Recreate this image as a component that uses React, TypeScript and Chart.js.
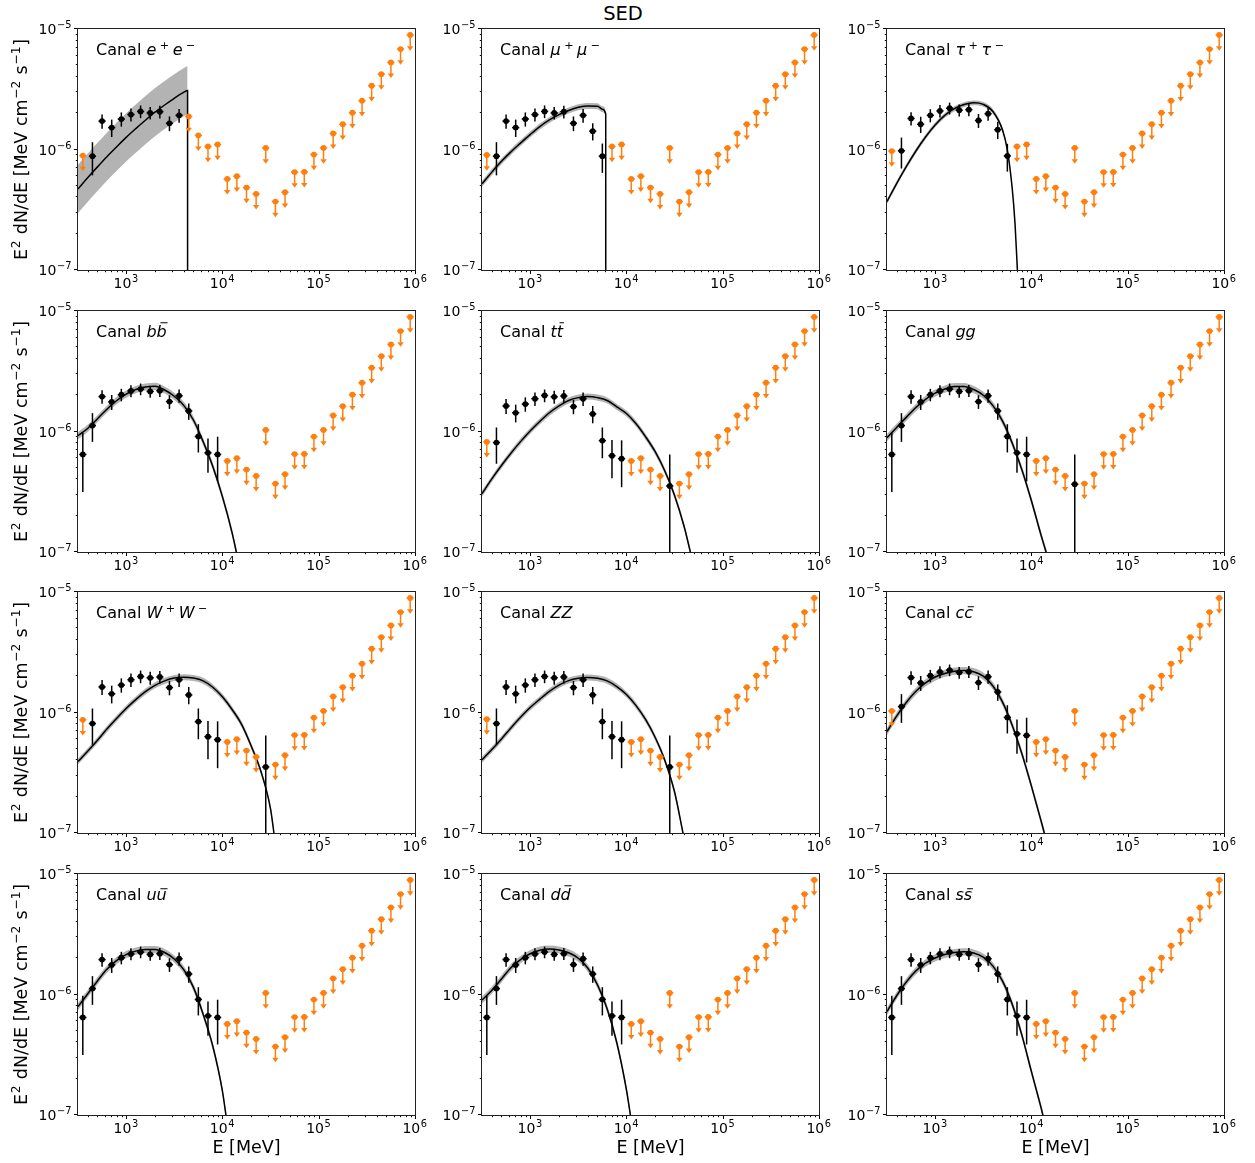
import React, { useEffect, useRef } from "react";
import { Chart, registerables } from "chart.js";

Chart.register(...registerables);

// ---------------- data ----------------
// Bin centres (MeV)
const energyMeV = [354.8, 446.7, 562.3, 707.9, 891.3, 1122, 1413, 1778, 2239, 2818, 3548, 4467, 5623, 7079, 8913, 11220, 14125, 17783, 22387, 28184, 35481, 44668, 56234, 70795, 89125, 112202, 141254, 177828, 223872, 281838, 354813, 446684, 562341, 707946, 891251];

// Upper limits (orange) for bins that are not detections
const upperLimitFlux = [null, null, null, null, null, null, null, null, null, null, null, 1.88e-6, 1.31e-6, 1.06e-6, 1.10e-6, 5.7e-7, 6.0e-7, 4.83e-7, 4.28e-7, 1.03e-6, 3.70e-7, 4.42e-7, 6.49e-7, 6.52e-7, 9.08e-7, 1.03e-6, 1.36e-6, 1.62e-6, 2.02e-6, 2.54e-6, 3.38e-6, 4.22e-6, 5.28e-6, 6.82e-6, 8.92e-6];

// Detected flux points (black) per fit family, bins 0..19
const leptonFlux = [null, 8.8e-7, 1.72e-6, 1.52e-6, 1.79e-6, 1.95e-6, 2.07e-6, 2.01e-6, 2.06e-6, 1.65e-6, 1.92e-6, 1.42e-6, 8.8e-7];
const leptonErr = [null, 2.7e-7, 2.3e-7, 2.5e-7, 2.4e-7, 2.4e-7, 2.5e-7, 2.4e-7, 2.5e-7, 2.3e-7, 2.5e-7, 2.3e-7, 2.4e-7];
const tauFlux = [null, 9.75e-7, 1.81e-6, 1.62e-6, 1.92e-6, 2.09e-6, 2.2e-6, 2.12e-6, 2.14e-6, 1.74e-6, 1.98e-6, 1.46e-6, 8.85e-7];
const tauErr = [null, 2.8e-7, 2.3e-7, 2.5e-7, 2.4e-7, 2.5e-7, 2.5e-7, 2.4e-7, 2.5e-7, 2.3e-7, 2.5e-7, 2.4e-7, 2.3e-7];
const heavyFlux = [null, 8.1e-7, 1.63e-6, 1.43e-6, 1.69e-6, 1.87e-6, 1.99e-6, 1.94e-6, 1.97e-6, 1.61e-6, 1.87e-6, 1.40e-6, 8.4e-7, 6.3e-7, 5.95e-7, null, null, null, null, 3.53e-7];
const heavyErr = [null, 2.7e-7, 2.3e-7, 2.4e-7, 2.3e-7, 2.4e-7, 2.4e-7, 2.4e-7, 2.4e-7, 2.2e-7, 2.4e-7, 2.3e-7, 2.4e-7, 2.2e-7, 2.5e-7, null, null, null, null, 2.9e-7];
const quarkFlux = [6.45e-7, 1.12e-6, 1.95e-6, 1.76e-6, 2.02e-6, 2.17e-6, 2.25e-6, 2.15e-6, 2.18e-6, 1.77e-6, 1.98e-6, 1.48e-6, 9.1e-7, 6.65e-7, 6.45e-7, null, null, null, null, 3.65e-7];
const quarkErr = [3.3e-7, 3.0e-7, 2.5e-7, 2.5e-7, 2.4e-7, 2.5e-7, 2.5e-7, 2.4e-7, 2.5e-7, 2.3e-7, 2.5e-7, 2.3e-7, 2.4e-7, 2.1e-7, 2.6e-7, null, null, null, null, 2.8e-7];

// Channels, row-major
const channelKeys = ["ee", "mumu", "tautau", "bb", "tt", "gg", "WW", "ZZ", "cc", "uu", "dd", "ss"];
const channelFamily = ["lepton", "lepton", "tau", "quark", "heavy", "quark", "heavy", "heavy", "quark", "quark", "quark", "quark"];
const channelDetectedBins = [
  [1, 2, 3, 4, 5, 6, 7, 8, 9, 10],
  [1, 2, 3, 4, 5, 6, 7, 8, 9, 10, 11, 12],
  [1, 2, 3, 4, 5, 6, 7, 8, 9, 10, 11, 12],
  [0, 1, 2, 3, 4, 5, 6, 7, 8, 9, 10, 11, 12, 13, 14],
  [1, 2, 3, 4, 5, 6, 7, 8, 9, 10, 11, 12, 13, 14, 19],
  [0, 1, 2, 3, 4, 5, 6, 7, 8, 9, 10, 11, 12, 13, 14, 19],
  [1, 2, 3, 4, 5, 6, 7, 8, 9, 10, 11, 12, 13, 14, 19],
  [1, 2, 3, 4, 5, 6, 7, 8, 9, 10, 11, 12, 13, 14, 19],
  [1, 2, 3, 4, 5, 6, 7, 8, 9, 10, 11, 12, 13, 14],
  [0, 1, 2, 3, 4, 5, 6, 7, 8, 9, 10, 11, 12, 13, 14],
  [0, 1, 2, 3, 4, 5, 6, 7, 8, 9, 10, 11, 12, 13, 14],
  [0, 1, 2, 3, 4, 5, 6, 7, 8, 9, 10, 11, 12, 13, 14],
];
const channelFirstBinUl = [8.9e-7, 9.0e-7, 9.7e-7, null, 8.2e-7, null, 8.7e-7, 8.8e-7, 1.03e-6, null, null, null];
// half width of the model uncertainty band, in decades
const channelBandDex = [0.2, 0.025, 0.02, 0.03, 0.025, 0.03, 0.025, 0.025, 0.03, 0.03, 0.03, 0.03];

// Model curves [E (MeV), E^2 dN/dE]
const curveEE = [[316.2, 4.71e-7], [398.1, 5.82e-7], [501.2, 7.14e-7], [631.0, 8.71e-7], [794.3, 1.05e-6], [1000, 1.26e-6], [1259, 1.49e-6], [1585, 1.75e-6], [1995, 2.04e-6], [2512, 2.34e-6], [3162, 2.66e-6], [3981, 2.99e-6], [4345, 3.09e-6], [4350, 1e-10]];
const curveMuMu = [[316.2, 5.19e-7], [398.1, 6.46e-7], [501.2, 7.94e-7], [631.0, 9.55e-7], [794.3, 1.13e-6], [1000, 1.33e-6], [1259, 1.55e-6], [1585, 1.76e-6], [1995, 1.95e-6], [2512, 2.11e-6], [3162, 2.24e-6], [3981, 2.30e-6], [5012, 2.29e-6], [5623, 2.16e-6], [6095, 1.97e-6], [6105, 1e-10]];
const curveTauTau = [[316.2, 3.70e-7], [398.1, 5.22e-7], [501.2, 7.21e-7], [631.0, 9.72e-7], [794.3, 1.27e-6], [1000, 1.60e-6], [1259, 1.92e-6], [1585, 2.18e-6], [1995, 2.36e-6], [2512, 2.44e-6], [3162, 2.37e-6], [3981, 2.07e-6], [5012, 1.45e-6], [5623, 9.89e-7], [6310, 4.79e-7], [6761, 2.40e-7], [7178, 9.33e-8]];
const curveBB = [[316.2, 9.23e-7], [398.1, 1.06e-6], [501.2, 1.27e-6], [631.0, 1.53e-6], [794.3, 1.80e-6], [1000, 2.04e-6], [1259, 2.23e-6], [1585, 2.34e-6], [1995, 2.37e-6], [2512, 2.21e-6], [3162, 1.96e-6], [3981, 1.64e-6], [5012, 1.24e-6], [6310, 8.22e-7], [7943, 5.13e-7], [10000, 2.88e-7], [12589, 1.45e-7], [14125, 9.55e-8]];
const curveTT = [[316.2, 3.05e-7], [398.1, 4.02e-7], [501.2, 5.20e-7], [631.0, 6.61e-7], [794.3, 8.24e-7], [1000, 1.01e-6], [1259, 1.21e-6], [1585, 1.43e-6], [1995, 1.63e-6], [2512, 1.81e-6], [3162, 1.91e-6], [3981, 1.95e-6], [5012, 1.91e-6], [6310, 1.81e-6], [7943, 1.60e-6], [10000, 1.41e-6], [12589, 1.16e-6], [15849, 9.02e-7], [19953, 6.76e-7], [25119, 4.68e-7], [31623, 2.95e-7], [39811, 1.62e-7], [46774, 9.55e-8]];
const curveGG = [[316.2, 8.89e-7], [398.1, 1.08e-6], [501.2, 1.31e-6], [631.0, 1.58e-6], [794.3, 1.85e-6], [1000, 2.08e-6], [1259, 2.25e-6], [1585, 2.36e-6], [1995, 2.36e-6], [2512, 2.23e-6], [3162, 2.00e-6], [3981, 1.64e-6], [5012, 1.22e-6], [6310, 8.04e-7], [7943, 4.84e-7], [10000, 2.66e-7], [12589, 1.38e-7], [14454, 9.55e-8]];
const curveWW = [[316.2, 3.92e-7], [398.1, 4.76e-7], [501.2, 5.86e-7], [631.0, 7.28e-7], [794.3, 8.91e-7], [1000, 1.08e-6], [1259, 1.28e-6], [1585, 1.49e-6], [1995, 1.68e-6], [2512, 1.83e-6], [3162, 1.93e-6], [3981, 1.96e-6], [5012, 1.93e-6], [6310, 1.83e-6], [7943, 1.62e-6], [10000, 1.35e-6], [12589, 1.06e-6], [15849, 7.94e-7], [19953, 5.25e-7], [25119, 3.24e-7], [31623, 1.58e-7], [34674, 9.33e-8]];
const curveZZ = [[316.2, 4.05e-7], [398.1, 4.90e-7], [501.2, 6.00e-7], [631.0, 7.45e-7], [794.3, 9.12e-7], [1000, 1.10e-6], [1259, 1.29e-6], [1585, 1.50e-6], [1995, 1.69e-6], [2512, 1.84e-6], [3162, 1.92e-6], [3981, 1.95e-6], [5012, 1.92e-6], [6310, 1.83e-6], [7943, 1.64e-6], [10000, 1.41e-6], [12589, 1.14e-6], [15849, 8.71e-7], [19953, 6.17e-7], [25119, 3.98e-7], [31623, 2.19e-7], [38905, 9.77e-8]];
const curveCC = [[316.2, 6.95e-7], [398.1, 9.33e-7], [501.2, 1.21e-6], [631.0, 1.50e-6], [794.3, 1.76e-6], [1000, 1.97e-6], [1259, 2.11e-6], [1585, 2.20e-6], [1995, 2.23e-6], [2512, 2.18e-6], [3162, 2.00e-6], [3981, 1.66e-6], [5012, 1.22e-6], [6310, 7.85e-7], [7943, 4.57e-7], [10000, 2.45e-7], [12589, 1.26e-7], [13804, 9.55e-8]];
const curveUU = [[316.2, 7.93e-7], [398.1, 1.01e-6], [501.2, 1.29e-6], [631.0, 1.62e-6], [794.3, 1.91e-6], [1000, 2.14e-6], [1259, 2.29e-6], [1585, 2.36e-6], [1995, 2.36e-6], [2512, 2.23e-6], [3162, 1.97e-6], [3981, 1.60e-6], [5012, 1.14e-6], [6310, 6.84e-7], [7943, 3.72e-7], [10000, 1.58e-7], [10965, 9.55e-8]];
const curveDD = [[316.2, 8.99e-7], [398.1, 1.08e-6], [501.2, 1.34e-6], [631.0, 1.67e-6], [794.3, 1.95e-6], [1000, 2.18e-6], [1259, 2.33e-6], [1585, 2.38e-6], [1995, 2.34e-6], [2512, 2.22e-6], [3162, 2.00e-6], [3981, 1.65e-6], [5012, 1.20e-6], [6310, 7.59e-7], [7943, 3.98e-7], [10000, 1.62e-7], [11092, 9.55e-8]];
const curveSS = [[316.2, 7.21e-7], [398.1, 9.77e-7], [501.2, 1.27e-6], [631.0, 1.57e-6], [794.3, 1.82e-6], [1000, 2.01e-6], [1259, 2.15e-6], [1585, 2.23e-6], [1995, 2.26e-6], [2512, 2.21e-6], [3162, 2.04e-6], [3981, 1.72e-6], [5012, 1.29e-6], [6310, 8.32e-7], [7943, 4.62e-7], [10000, 2.29e-7], [12589, 1.15e-7], [13335, 9.55e-8]];
const channelCurves = [curveEE, curveMuMu, curveTauTau, curveBB, curveTT, curveGG, curveWW, curveZZ, curveCC, curveUU, curveDD, curveSS];

// Axes
const xMin = 316.2278;
const xMax = 1e6;
const yMin = 1e-7;
const yMax = 1e-5;
const xTickValues = [1e3, 1e4, 1e5, 1e6];
const xTickExps = ["3", "4", "5", "6"];
const yTickValues = [1e-7, 1e-6, 1e-5];
const yTickExps = ["\u22127", "\u22126", "\u22125"];
const xMinorTicks = [400, 500, 600, 700, 800, 900, 2e3, 3e3, 4e3, 5e3, 6e3, 7e3, 8e3, 9e3, 2e4, 3e4, 4e4, 5e4, 6e4, 7e4, 8e4, 9e4, 2e5, 3e5, 4e5, 5e5, 6e5, 7e5, 8e5, 9e5];
const yMinorTicks = [2e-7, 3e-7, 4e-7, 5e-7, 6e-7, 7e-7, 8e-7, 9e-7, 2e-6, 3e-6, 4e-6, 5e-6, 6e-6, 7e-6, 8e-6, 9e-6];

// ---------------- styles / layout ----------------
type Seg = { t: string; sup?: boolean; it?: boolean; bar?: boolean; pad?: boolean };
const MINUS = "\u2212";
const channelLabels: Seg[][] = [
  [{ t: "e", it: true }, { t: "+", sup: true, pad: true }, { t: "e", it: true }, { t: MINUS, sup: true, pad: true }],
  [{ t: "\u03bc", it: true }, { t: "+", sup: true, pad: true }, { t: "\u03bc", it: true }, { t: MINUS, sup: true, pad: true }],
  [{ t: "\u03c4", it: true }, { t: "+", sup: true, pad: true }, { t: "\u03c4", it: true }, { t: MINUS, sup: true, pad: true }],
  [{ t: "b", it: true }, { t: "b", it: true, bar: true }],
  [{ t: "t", it: true }, { t: "t", it: true, bar: true }],
  [{ t: "gg", it: true }],
  [{ t: "W", it: true }, { t: "+", sup: true, pad: true }, { t: "W", it: true }, { t: MINUS, sup: true, pad: true }],
  [{ t: "ZZ", it: true }],
  [{ t: "c", it: true }, { t: "c", it: true, bar: true }],
  [{ t: "u", it: true }, { t: "u", it: true, bar: true }],
  [{ t: "d", it: true }, { t: "d", it: true, bar: true }],
  [{ t: "s", it: true }, { t: "s", it: true, bar: true }],
];
const yTitleSegs: Seg[] = [
  { t: "E" }, { t: "2", sup: true }, { t: " dN/dE [MeV cm" }, { t: MINUS + "2", sup: true }, { t: " s" }, { t: MINUS + "1", sup: true }, { t: "]" },
];

const FONT = '"DejaVu Sans", "Liberation Sans", sans-serif';
const TICK_FS = 14;
const LABEL_FS = 16;
const AXIS_FS = 17.5;
const ORANGE = "#ff7f0e";
const BAND = "rgba(128,128,128,0.6)";
const XERR = 1.09; // horizontal error-bar half-width factor
const UL_TIP = 0.8; // upper-limit arrow length factor
const MARKER_R = 2.9;

const YW = 72, PT = 12, PR = 16, XH = 45;
const PLOT_W = 337, PLOT_H = 241;
const colLeft = [78, 482, 887];
const rowTop = [29, 311, 592, 874];
const CW = YW + PLOT_W + PR;
const CH = PT + PLOT_H + XH;

function segFont(s: Seg, size: number) {
  const sz = s.sup ? size * 0.7 : size;
  return `${s.it ? "italic " : ""}${sz}px ${FONT}`;
}
function segPad(s: Seg, size: number) {
  return s.pad ? size * 0.22 : s.sup ? size * 0.04 : 0;
}
function richWidth(ctx: CanvasRenderingContext2D, segs: Seg[], size: number) {
  let w = 0;
  for (const s of segs) {
    ctx.font = segFont(s, size);
    w += ctx.measureText(s.t).width + 2 * segPad(s, size);
  }
  return w;
}
function drawRich(ctx: CanvasRenderingContext2D, segs: Seg[], x: number, y: number, size: number, align: string) {
  const w = richWidth(ctx, segs, size);
  let cx = align === "center" ? x - w / 2 : align === "right" ? x - w : x;
  ctx.textAlign = "left";
  ctx.textBaseline = "alphabetic";
  for (const s of segs) {
    ctx.font = segFont(s, size);
    const m = ctx.measureText(s.t);
    const p = segPad(s, size);
    const yy = s.sup ? y - size * 0.4 : y;
    ctx.fillText(s.t, cx + p, yy);
    if (s.bar) {
      const top = yy - m.actualBoundingBoxAscent - size * 0.14;
      ctx.save();
      ctx.lineWidth = 1;
      ctx.strokeStyle = "#000";
      ctx.beginPath();
      ctx.moveTo(cx + p + m.width * 0.25 + size * 0.08, top);
      ctx.lineTo(cx + p + m.width * 0.95 + size * 0.08, top);
      ctx.stroke();
      ctx.restore();
    }
    cx += m.width + 2 * p;
  }
}

function familyArrays(fam: string) {
  if (fam === "lepton") return [leptonFlux, leptonErr];
  if (fam === "tau") return [tauFlux, tauErr];
  if (fam === "heavy") return [heavyFlux, heavyErr];
  return [quarkFlux, quarkErr];
}

function buildConfig(idx: number): any {
  const col = idx % 3;
  const row = Math.floor(idx / 3);
  const [famFlux, famErr] = familyArrays(channelFamily[idx]);
  const det = channelDetectedBins[idx];
  const detData = det.map((i) => ({ x: energyMeV[i], y: famFlux[i] as number }));
  const detErrs = det.map((i) => famErr[i] as number);
  const ulData: any[] = [];
  energyMeV.forEach((e, i) => {
    if (det.includes(i)) return;
    const v = i === 0 ? channelFirstBinUl[idx] : upperLimitFlux[i];
    if (v != null) ulData.push({ x: e, y: v });
  });
  const curve = channelCurves[idx];
  const bf = Math.pow(10, channelBandDex[idx]);
  const curveData = curve.map(([e, f]) => ({ x: e, y: f }));
  const upper = curve.map(([e, f]) => ({ x: e, y: f * bf }));
  const lower = curve.map(([e, f]) => ({ x: e, y: f / bf }));

  const lineCommon = { pointRadius: 0, pointHoverRadius: 0, cubicInterpolationMode: "monotone" };

  const decor = {
    id: "sedDecor",
    beforeDatasetDraw(chart: any, args: any) {
      const ds = chart.data.datasets[args.index];
      if (!ds.errKind) return;
      const ctx = chart.ctx;
      const a = chart.chartArea;
      const xs = chart.scales.x, ys = chart.scales.y;
      ctx.save();
      ctx.beginPath();
      ctx.rect(a.left, a.top, a.right - a.left, a.bottom - a.top);
      ctx.clip();
      ctx.strokeStyle = ds.errColor;
      ctx.fillStyle = ds.errColor;
      ctx.lineWidth = 1.5;
      ds.data.forEach((pt: any, i: number) => {
        const px = xs.getPixelForValue(pt.x);
        const py = ys.getPixelForValue(pt.y);
        const xl = xs.getPixelForValue(pt.x / XERR);
        const xr = xs.getPixelForValue(pt.x * XERR);
        ctx.beginPath();
        ctx.moveTo(xl, py);
        ctx.lineTo(xr, py);
        ctx.stroke();
        if (ds.errKind === "err") {
          const e = ds.errs[i];
          const yt = ys.getPixelForValue(pt.y + e);
          const yb = ys.getPixelForValue(Math.max(pt.y - e, 1e-12));
          ctx.beginPath();
          ctx.moveTo(px, yt);
          ctx.lineTo(px, Math.min(yb, a.bottom + 5));
          ctx.stroke();
        } else {
          const ye = ys.getPixelForValue(pt.y * UL_TIP);
          ctx.beginPath();
          ctx.moveTo(px, py);
          ctx.lineTo(px, ye);
          ctx.stroke();
          ctx.beginPath();
          ctx.moveTo(px - 3.2, ye - 0.5);
          ctx.lineTo(px + 3.2, ye - 0.5);
          ctx.lineTo(px, ye + 4);
          ctx.closePath();
          ctx.fill();
        }
      });
      ctx.restore();
    },
    afterDraw(chart: any) {
      const ctx = chart.ctx;
      const a = chart.chartArea;
      const xs = chart.scales.x, ys = chart.scales.y;
      ctx.save();
      ctx.fillStyle = "#000";
      ctx.strokeStyle = "#000";
      ctx.lineWidth = 1;
      const vline = (x: number, y0: number, y1: number) => {
        const xx = Math.round(x) + 0.5;
        ctx.beginPath(); ctx.moveTo(xx, y0); ctx.lineTo(xx, y1); ctx.stroke();
      };
      const hline = (y: number, x0: number, x1: number) => {
        const yy = Math.round(y) - 0.5;
        ctx.beginPath(); ctx.moveTo(x0, yy); ctx.lineTo(x1, yy); ctx.stroke();
      };
      xMinorTicks.forEach((v) => vline(xs.getPixelForValue(v), a.bottom, a.bottom + 2.2));
      xTickValues.forEach((v) => vline(xs.getPixelForValue(v), a.bottom, a.bottom + 4));
      yMinorTicks.forEach((v) => hline(ys.getPixelForValue(v), a.left - 2.2, a.left));
      yTickValues.forEach((v) => hline(ys.getPixelForValue(v), a.left - 4, a.left));
      ctx.strokeStyle = "#222";
      ctx.strokeRect(a.left - 0.5, a.top - 0.5, a.right - a.left + 1, a.bottom - a.top + 1);

      ctx.fillStyle = "#000";
      xTickValues.forEach((v, i) => {
        drawRich(ctx, [{ t: "10" }, { t: xTickExps[i], sup: true }], xs.getPixelForValue(v), a.bottom + 18, TICK_FS, "center");
      });
      yTickValues.forEach((v, i) => {
        drawRich(ctx, [{ t: "10" }, { t: yTickExps[i], sup: true }], a.left - 6, ys.getPixelForValue(v) + 5, TICK_FS, "right");
      });
      drawRich(ctx, [{ t: "Canal " }, ...channelLabels[idx]], a.left + 18, a.top + 26, LABEL_FS, "left");
      if (col === 0) {
        ctx.save();
        ctx.translate(a.left - 51, (a.top + a.bottom) / 2);
        ctx.rotate(-Math.PI / 2);
        drawRich(ctx, yTitleSegs, 0, 0, AXIS_FS, "center");
        ctx.restore();
      }
      if (row === 3) {
        drawRich(ctx, [{ t: "E [MeV]" }], (a.left + a.right) / 2, a.bottom + 38, AXIS_FS, "center");
      }
      ctx.restore();
    },
  };

  return {
    type: "scatter",
    data: {
      datasets: [
        { type: "line", data: upper, borderColor: "rgba(0,0,0,0)", borderWidth: 0, fill: false, order: 5, ...lineCommon },
        { type: "line", data: lower, borderColor: "rgba(0,0,0,0)", borderWidth: 0, fill: "-1", backgroundColor: BAND, order: 4, ...lineCommon },
        { type: "line", data: curveData, borderColor: "#000", borderWidth: 1.5, fill: false, order: 3, ...lineCommon },
        { type: "scatter", data: ulData, pointRadius: MARKER_R, pointBackgroundColor: ORANGE, pointBorderWidth: 0, order: 2, errKind: "ul", errColor: ORANGE },
        { type: "scatter", data: detData, pointRadius: MARKER_R, pointBackgroundColor: "#000", pointBorderWidth: 0, order: 1, errKind: "err", errs: detErrs, errColor: "#000" },
      ],
    },
    options: {
      animation: false,
      responsive: false,
      maintainAspectRatio: false,
      devicePixelRatio: 1,
      events: [],
      layout: { padding: { left: 0, top: PT, right: PR, bottom: 0 } },
      plugins: { legend: { display: false }, tooltip: { enabled: false }, title: { display: false } },
      scales: {
        x: {
          type: "logarithmic", position: "bottom", min: xMin, max: xMax,
          grid: { display: false, drawTicks: false }, border: { display: false },
          ticks: { display: false },
          afterFit: (s: any) => { s.height = XH; },
        },
        y: {
          type: "logarithmic", position: "left", min: yMin, max: yMax,
          grid: { display: false, drawTicks: false }, border: { display: false },
          ticks: { display: false },
          afterFit: (s: any) => { s.width = YW; },
        },
      },
    },
    plugins: [decor],
  };
}

function Panel({ idx }: { idx: number }) {
  const ref = useRef<HTMLCanvasElement>(null);
  useEffect(() => {
    const chart = new Chart(ref.current as HTMLCanvasElement, buildConfig(idx));
    return () => chart.destroy();
  }, [idx]);
  const col = idx % 3;
  const row = Math.floor(idx / 3);
  return (
    <canvas
      ref={ref}
      width={CW}
      height={CH}
      style={{ position: "absolute", left: colLeft[col] - YW, top: rowTop[row] - PT, width: CW, height: CH }}
    />
  );
}

export default function App() {
  return (
    <div style={{ position: "absolute", left: 0, top: 0, width: 1255, height: 1163, overflow: "hidden", background: "#fff" }}>
      <div
        style={{
          position: "absolute", left: 0, top: 3, width: 1246, textAlign: "center",
          font: `19.5px ${FONT}`, lineHeight: "22px", color: "#000",
        }}
      >
        SED
      </div>
      {channelKeys.map((k, i) => (
        <Panel key={k} idx={i} />
      ))}
    </div>
  );
}
